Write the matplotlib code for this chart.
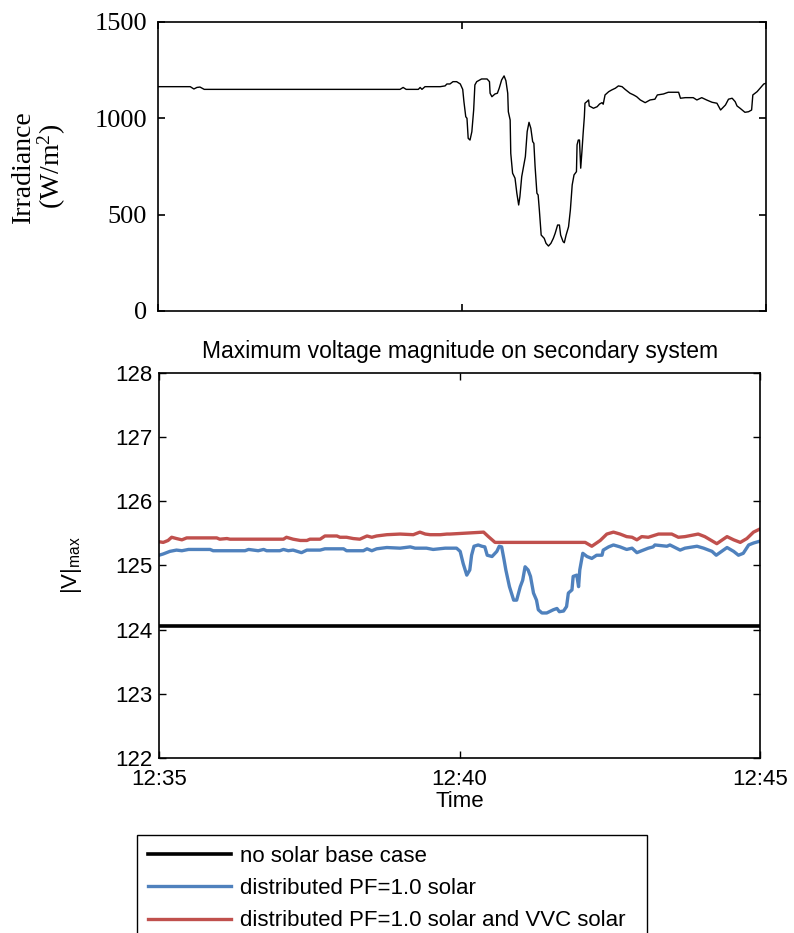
import matplotlib
matplotlib.use('Agg')
import matplotlib.pyplot as plt

plt.rcParams['font.family'] = ['Liberation Sans', 'DejaVu Sans']

# minutes after 12:35
irr_t = [0.00, 0.53, 0.59, 0.64, 0.69, 0.76, 3.98, 4.03, 4.08, 4.28, 4.31, 4.34, 4.39, 4.64,
         4.72, 4.75, 4.80, 4.85, 4.91, 4.97, 5.01, 5.03, 5.06, 5.08, 5.10, 5.13, 5.16, 5.19,
         5.21, 5.24, 5.32, 5.41, 5.45, 5.46, 5.49, 5.54, 5.58, 5.61, 5.65, 5.69, 5.72, 5.75,
         5.76, 5.79, 5.80, 5.83, 5.87, 5.90, 5.93, 5.95, 5.98, 6.04, 6.07, 6.10, 6.13, 6.16,
         6.18, 6.20, 6.23, 6.25, 6.27, 6.30, 6.35, 6.38, 6.42, 6.46, 6.50, 6.53, 6.57, 6.60,
         6.62, 6.66, 6.68, 6.71, 6.75, 6.78, 6.81, 6.84, 6.88, 6.89, 6.91, 6.93, 6.95, 6.97,
         6.99, 7.01, 7.02, 7.05, 7.08, 7.09, 7.16, 7.22, 7.26, 7.30, 7.32, 7.35, 7.41, 7.46,
         7.52, 7.57, 7.63, 7.68, 7.76, 7.82, 7.87, 7.93, 8.01, 8.09, 8.17, 8.21, 8.31, 8.39,
         8.56, 8.59, 8.67, 8.80, 8.86, 8.94, 9.02, 9.11, 9.19, 9.25, 9.33, 9.38, 9.44, 9.49,
         9.52, 9.57, 9.65, 9.71, 9.76, 9.78, 9.85, 9.90, 9.96, 10.00]
irr = [1164, 1164, 1152, 1160, 1162, 1150, 1150, 1160, 1150, 1150, 1160, 1150, 1164, 1164,
       1168, 1178, 1178, 1190, 1190, 1178, 1150, 1086, 1008, 1000, 896, 887, 930, 1043,
       1173, 1190, 1204, 1204, 1190, 1130, 1112, 1126, 1130, 1156, 1199, 1220, 1195, 1130,
       1034, 991, 818, 715, 689, 611, 550, 593, 697, 801, 931, 979, 948, 879,
       870, 749, 611, 602, 524, 394, 377, 351, 337, 351, 377, 403, 446, 446,
       394, 360, 354, 394, 437, 524, 654, 706, 723, 862, 887, 887, 741, 827,
       922, 1008, 1078, 1086, 1095, 1064, 1052, 1060, 1074, 1081, 1073, 1121, 1138, 1147,
       1156, 1168, 1164, 1150, 1130, 1121, 1112, 1095, 1081, 1095, 1099, 1121, 1126, 1135,
       1135, 1104, 1107, 1107, 1095, 1107, 1095, 1083, 1078, 1043, 1069, 1099, 1104, 1086,
       1064, 1052, 1031, 1034, 1043, 1121, 1138, 1156, 1178, 1182]

base_t = [0.0, 10.0]
base_v = [124.05, 124.05]

pf_t = [0.00, 0.07, 0.18, 0.29, 0.38, 0.49, 0.85, 0.90, 1.43, 1.49, 1.65, 1.74, 1.79, 2.01,
        2.07, 2.15, 2.23, 2.37, 2.46, 2.68, 2.76, 3.07, 3.12, 3.40, 3.46, 3.54, 3.62, 3.79,
        4.01, 4.18, 4.26, 4.45, 4.56, 4.76, 4.95, 5.01, 5.06, 5.12, 5.17, 5.20, 5.24, 5.31,
        5.37, 5.42, 5.46, 5.54, 5.62, 5.66, 5.70, 5.74, 5.77, 5.83, 5.90, 5.95, 6.01, 6.05,
        6.09, 6.14, 6.18, 6.23, 6.28, 6.31, 6.37, 6.45, 6.56, 6.62, 6.66, 6.73, 6.78, 6.81,
        6.87, 6.89, 6.95, 6.98, 7.00, 7.05, 7.12, 7.20, 7.28, 7.37, 7.39, 7.48, 7.56, 7.67,
        7.78, 7.87, 7.95, 8.03, 8.14, 8.22, 8.25, 8.45, 8.50, 8.67, 8.75, 8.95, 9.06, 9.20,
        9.27, 9.45, 9.56, 9.64, 9.72, 9.81, 9.89, 10.00]
pf_v = [125.16, 125.18, 125.22, 125.24, 125.23, 125.25, 125.25, 125.23, 125.23, 125.25, 125.23,
        125.25, 125.23, 125.23, 125.25, 125.23, 125.24, 125.20, 125.24, 125.24, 125.26, 125.26,
        125.23, 125.23, 125.26, 125.23, 125.26, 125.28, 125.27, 125.29, 125.27, 125.27, 125.25,
        125.27, 125.27, 125.22, 125.03, 124.85, 124.93, 125.16, 125.30, 125.32, 125.30, 125.29,
        125.16, 125.14, 125.22, 125.30, 125.29, 125.09, 124.93, 124.67, 124.46, 124.46, 124.67,
        124.77, 124.98, 124.93, 124.83, 124.57, 124.46, 124.31, 124.26, 124.26, 124.31, 124.33,
        124.28, 124.29, 124.36, 124.57, 124.62, 124.83, 124.85, 124.67, 124.93, 125.19, 125.14,
        125.11, 125.16, 125.16, 125.24, 125.29, 125.32, 125.29, 125.25, 125.27, 125.20, 125.23,
        125.27, 125.29, 125.32, 125.30, 125.32, 125.24, 125.27, 125.30, 125.27, 125.22, 125.16,
        125.28, 125.22, 125.16, 125.19, 125.32, 125.35, 125.38]

vvc_t = [0.00, 0.07, 0.15, 0.21, 0.29, 0.38, 0.46, 0.96, 1.01, 1.13, 1.18, 2.07, 2.12, 2.23,
         2.35, 2.46, 2.51, 2.68, 2.76, 2.96, 3.01, 3.12, 3.23, 3.34, 3.46, 3.54, 3.62, 3.79,
         4.01, 4.23, 4.34, 4.43, 4.51, 4.68, 4.79, 4.84, 5.40, 5.48, 5.59, 7.09, 7.20, 7.34,
         7.45, 7.56, 7.67, 7.78, 7.87, 7.95, 8.03, 8.14, 8.31, 8.53, 8.64, 8.75, 8.97, 9.08,
         9.28, 9.45, 9.56, 9.67, 9.78, 9.89, 10.00]
vvc_v = [125.37, 125.36, 125.39, 125.44, 125.42, 125.40, 125.43, 125.43, 125.41, 125.42, 125.41,
         125.41, 125.44, 125.41, 125.39, 125.39, 125.41, 125.41, 125.46, 125.46, 125.44, 125.44,
         125.42, 125.41, 125.46, 125.44, 125.46, 125.48, 125.49, 125.48, 125.52, 125.49, 125.48,
         125.48, 125.49, 125.49, 125.52, 125.45, 125.36, 125.36, 125.30, 125.39, 125.49, 125.52,
         125.49, 125.45, 125.44, 125.40, 125.45, 125.44, 125.49, 125.49, 125.44, 125.45, 125.49,
         125.45, 125.34, 125.45, 125.40, 125.36, 125.42, 125.52, 125.57]

time_ticks = [0, 5, 10]
time_labels = ['12:35', '12:40', '12:45']
labels = ['no solar base case', 'distributed PF=1.0 solar',
          'distributed PF=1.0 solar and VVC solar']

fig = plt.figure(figsize=(7.94, 9.33), dpi=100)

# top panel: irradiance
ax1 = fig.add_axes([0.199, 0.6667, 0.766, 0.3098])
ax1.plot(irr_t, irr, color='black', lw=1.0)
ax1.set_xlim(0, 10)
ax1.set_ylim(0, 1500)
ax1.set_xticks(time_ticks)
ax1.set_xticklabels([])
ax1.set_yticks([0, 500, 1000, 1500])
ax1.tick_params(direction='in', top=True, right=True, length=5, width=1.2,
                labelsize=19, labelfontfamily='Liberation Serif', pad=8)
ax1.set_ylabel('Irradiance\n(W/m$\\mathregular{^2}$)', family='Liberation Serif',
               fontsize=20, linespacing=1.0)
ax1.yaxis.set_label_coords(-0.148, 0.5)
for s in ax1.spines.values():
    s.set_linewidth(1.2)

# bottom panel: max voltage
ax2 = fig.add_axes([0.2003, 0.1876, 0.757, 0.4126])
l0, = ax2.plot(base_t, base_v, color='black', lw=2.6)
l1, = ax2.plot(pf_t, pf_v, color='#4f81bd', lw=2.4)
l2, = ax2.plot(vvc_t, vvc_v, color='#c0504d', lw=2.4)
ax2.set_xlim(0, 10)
ax2.set_ylim(122, 128)
ax2.set_xticks(time_ticks)
ax2.set_xticklabels(time_labels)
ax2.set_yticks(range(122, 129))
ax2.tick_params(direction='in', top=True, right=True, length=5, width=1.0,
                labelsize=16, pad=5)
ax2.tick_params(axis='x', pad=8)
ax2.set_title('Maximum voltage magnitude on secondary system', fontsize=16.5, pad=11)
ax2.set_xlabel('Time', fontsize=16, labelpad=1)
ax2.set_ylabel('|V|$_{\\mathregular{max}}$', fontsize=16)
ax2.yaxis.set_label_coords(-0.125, 0.5)
for s in ax2.spines.values():
    s.set_linewidth(1.2)

fig.legend([l0, l1, l2], labels, loc='upper left',
           bbox_to_anchor=(0.1725, -0.05, 0.6423, 0.155), mode='expand',
           fontsize=16, frameon=True, fancybox=False, edgecolor='black',
           handlelength=3.75, handletextpad=0.4, labelspacing=0.5,
           borderpad=0.5, borderaxespad=0.0, framealpha=1)
fig.legends[0].get_frame().set_linewidth(1.0)

fig.savefig('out.png', dpi=100)
